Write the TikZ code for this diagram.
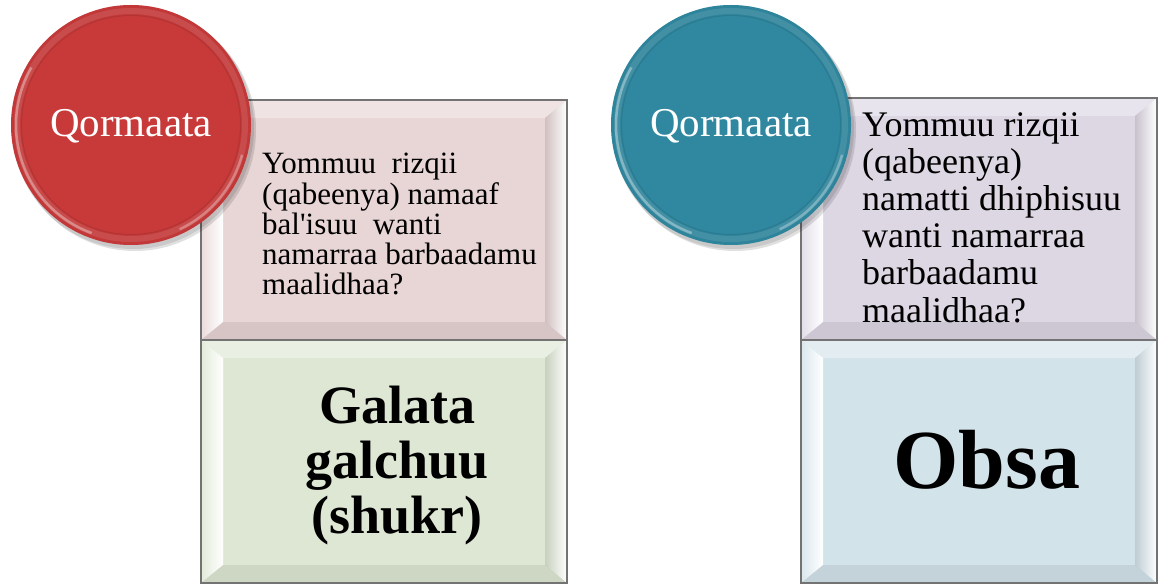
\documentclass[tikz,border=0pt]{standalone}
\usepackage{fontspec}
\setmainfont{Liberation Serif}
\definecolor{redc}{RGB}{200,58,58}
\definecolor{tealc}{RGB}{48,136,160}
\definecolor{pinkc}{RGB}{232,213,214}
\definecolor{greenc}{RGB}{222,231,211}
\definecolor{lavc}{RGB}{221,215,228}
\definecolor{bluec}{RGB}{211,227,234}
\definecolor{boxline}{RGB}{115,115,115}
\tikzset{
  bevelbox/.style={rectangle, draw=boxline, line width=1.4pt, inner sep=0pt, fill=#1,
    path picture={
      \coordinate (A) at (path picture bounding box.north west);
      \coordinate (B) at (path picture bounding box.north east);
      \coordinate (C) at (path picture bounding box.south east);
      \coordinate (D) at (path picture bounding box.south west);
      \coordinate (a) at ([xshift=22pt,yshift=-18pt]A);
      \coordinate (b) at ([xshift=-22pt,yshift=-18pt]B);
      \coordinate (c) at ([xshift=-22pt,yshift=18pt]C);
      \coordinate (d) at ([xshift=22pt,yshift=18pt]D);
      \fill[white,opacity=.35] (A)--(B)--(b)--(a)--cycle;
      \shade[left color=#1!85!white, right color=white] (A)--(a)--(d)--(D)--cycle;
      \shade[left color=#1!90!black, right color=white] (B)--(b)--(c)--(C)--cycle;
      \fill[black,opacity=.07] (D)--(d)--(c)--(C)--cycle;
    }},
  disc/.style={circle, minimum size=240pt, inner sep=0pt, fill=#1,
    path picture={
      \coordinate (O) at (path picture bounding box.center);
      \fill[#1!85!black,opacity=.2] (O) circle (120pt);
      \fill[#1] (O) circle (109pt);
      \draw[white,opacity=.10,line width=6pt] (O) circle (114pt);
      \draw[black,opacity=.07,line width=1pt] (O) circle (109.5pt);
      \draw[white,opacity=.35,line width=2.5pt] ([shift={(150:115pt)}]O) arc[start angle=150,end angle=250,radius=115pt];
      \draw[white,opacity=.3,line width=2.5pt] ([shift={(-65:115pt)}]O) arc[start angle=-65,end angle=-15,radius=115pt];
    }},
  circtext/.style={text=white, font=\fontsize{41}{41}\selectfont, inner sep=0pt, anchor=base},
  qtextL/.style={align=left, inner sep=0pt, anchor=north west, font=\fontsize{31}{30.3}\selectfont},
  qtextR/.style={align=left, inner sep=0pt, anchor=north west, font=\fontsize{36}{37.2}\selectfont},
  anstext/.style={align=center, inner sep=0pt, font=\bfseries\fontsize{54}{55}\selectfont},
}
\begin{document}
\begin{tikzpicture}[x=1pt,y=-1pt]
\useasboundingbox (0,0) rectangle (1158,585);
% left group
\node[bevelbox=pinkc, minimum width=366pt, minimum height=240pt] (qL) at (384,220) {};
\node[bevelbox=greenc, minimum width=366pt, minimum height=243pt] (aL) at (384,461.5) {};
\fill[black,opacity=.12] (135,130) circle (121);
\fill[black,opacity=.10] (133,128) circle (121);
\node[disc=redc] (cL) at (131,125) {};
\node[circtext] (tL) at (131,137) {Qormaata};
\node[qtextL] (xL) at (262,153) {Yommuu\ \ rizqii\\(qabeenya) namaaf\\bal\textquotesingle isuu\ \ wanti\\namarraa barbaadamu\\maalidhaa?};
\node[anstext, anchor=north] (yL) at (397,386) {Galata\\galchuu\\(shukr)};
% right group
\node[bevelbox=lavc, minimum width=356pt, minimum height=242pt] (qR) at (979,219) {};
\node[bevelbox=bluec, minimum width=356pt, minimum height=243pt] (aR) at (979,461.5) {};
\fill[black,opacity=.12] (735,130) circle (121);
\fill[black,opacity=.10] (733,128) circle (121);
\node[disc=tealc] (cR) at (731,125) {};
\node[circtext] (tR) at (731,137) {Qormaata};
\node[qtextR] (xR) at (862,112) {Yommuu rizqii\\(qabeenya)\\namatti dhiphisuu\\wanti namarraa\\barbaadamu\\maalidhaa?};
\node[inner sep=0pt, anchor=base, font=\bfseries\fontsize{84}{84}\selectfont] (yR) at (987,488) {Obsa};
\end{tikzpicture}
\end{document}
